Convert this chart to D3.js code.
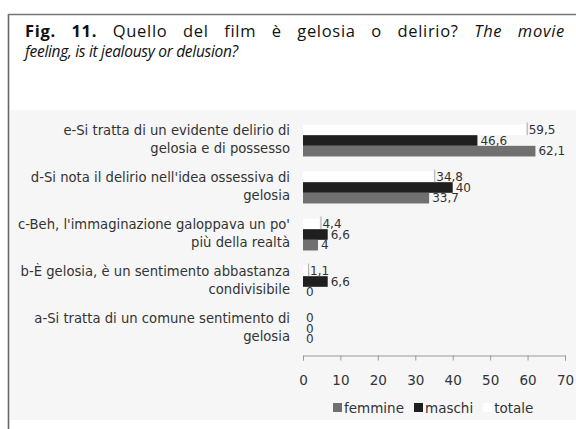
<!DOCTYPE html>
<html>
<head>
<meta charset="utf-8">
<script src="https://cdn.jsdelivr.net/npm/d3@7"></script>
<style>
  body { margin: 0; background: #fff; }
  svg { display: block; }
</style>
</head>
<body>
<script>
// data
var categories = ["e", "d", "c", "b", "a"];
var labelLines = [
    ["e-Si tratta di un evidente delirio di", "gelosia e di possesso"],
    ["d-Si nota il delirio nell'idea ossessiva di", "gelosia"],
    ["c-Beh, l'immaginazione galoppava un po'", "più della realtà"],
    ["b-È gelosia, è un sentimento abbastanza", "condivisibile"],
    ["a-Si tratta di un comune sentimento di", "gelosia"]
];
var femmine = [62.1, 33.7, 4, 0, 0];
var maschi = [46.6, 40, 6.6, 6.6, 0];
var totale = [59.5, 34.8, 4.4, 1.1, 0];
var seriesNames = ["totale", "maschi", "femmine"];
var legendNames = ["femmine", "maschi", "totale"];
var xTicks = [0, 10, 20, 30, 40, 50, 60, 70];

var colors = {femmine: "#707070", maschi: "#1f1f1f", totale: "#ffffff"};
var W = 576, H = 429;

var svg = d3.select("body").append("svg")
    .attr("width", W).attr("height", H);

// frame + panel
svg.append("rect").attr("x", 10).attr("y", 110).attr("width", W - 10).attr("height", 310)
    .attr("fill", "#f6f6f6");
svg.append("line").attr("x1", 8.5).attr("x2", 8.5).attr("y1", 14).attr("y2", H)
    .attr("stroke", "#666").attr("stroke-width", 1.6);
svg.append("line").attr("x1", 8).attr("x2", W).attr("y1", 14.5).attr("y2", 14.5)
    .attr("stroke", "#777").attr("stroke-width", 1.4);

// title (first line justified to the frame width)
var titleFont = "'Open Sans', sans-serif";
var t1 = svg.append("text").attr("x", 25).attr("y", 37)
    .style("font-family", titleFont).style("font-size", "16.5px")
    .style("letter-spacing", "0.7px").attr("fill", "#111");
t1.append("tspan").style("font-weight", "bold").text("Fig. 11.");
t1.append("tspan").text(" Quello del film è gelosia o delirio? ");
t1.append("tspan").style("font-style", "italic").text("The movie");
var natural = t1.node().getComputedTextLength();
t1.style("word-spacing", Math.max(0, (540 - natural) / 10) + "px");
svg.append("text").attr("x", 25).attr("y", 57)
    .style("font-family", titleFont).style("font-size", "15.5px")
    .style("letter-spacing", "-0.3px")
    .style("font-style", "italic").attr("fill", "#111")
    .text("feeling, is it jealousy or delusion?");

// scales
var x = d3.scaleLinear().domain([0, 70]).range([303, 565]);
var y = d3.scaleBand().domain(categories).range([117, 352])
    .paddingInner(0.32).paddingOuter(0.16);
var ySub = d3.scaleBand().domain(seriesNames).range([0, y.bandwidth()]);

var values = {femmine: femmine, maschi: maschi, totale: totale};
var rows = [];
categories.forEach(function(c, i) {
    seriesNames.forEach(function(s) {
        rows.push({cat: c, series: s, value: values[s][i]});
    });
});

var font = "'DejaVu Sans', Verdana, sans-serif";

// bars
svg.append("g").selectAll("rect")
    .data(rows).enter().append("rect")
    .attr("x", x(0))
    .attr("y", function(d) { return y(d.cat) + ySub(d.series); })
    .attr("width", function(d) { return x(d.value) - x(0); })
    .attr("height", ySub.bandwidth())
    .attr("fill", function(d) { return colors[d.series]; });

// small leader ticks next to the "totale" labels
svg.append("g").selectAll("line")
    .data(rows.filter(function(d) { return d.series === "totale" && d.value > 0; }))
    .enter().append("line")
    .attr("x1", function(d) { return x(d.value) + 1.5; })
    .attr("x2", function(d) { return x(d.value) + 1.5; })
    .attr("y1", function(d) { return y(d.cat) + ySub(d.series) - 2; })
    .attr("y2", function(d) { return y(d.cat) + ySub(d.series) + ySub.bandwidth(); })
    .attr("stroke", "#aaa").attr("stroke-width", 1);

// value labels
svg.append("g").selectAll("text")
    .data(rows).enter().append("text")
    .attr("x", function(d) { return x(d.value) + 3; })
    .attr("y", function(d) { return y(d.cat) + ySub(d.series) + ySub.bandwidth() / 2 + 4; })
    .style("font-family", font).style("font-size", "12px").attr("fill", "#333")
    .text(function(d) { return String(d.value).replace(".", ","); });

// category labels
var cl = svg.append("g").selectAll("text")
    .data(categories).enter().append("text")
    .attr("text-anchor", "end")
    .style("font-family", font).style("font-size", "13.2px").attr("fill", "#333");
cl.each(function(c, i) {
    var cy = y(c) + y.bandwidth() / 2;
    d3.select(this).selectAll("tspan").data(labelLines[i]).enter().append("tspan")
        .attr("x", 290)
        .attr("y", function(d, j) { return cy - 5.5 + j * 18; })
        .text(function(d) { return d; });
});

// x axis
var axis = svg.append("g").attr("transform", "translate(0,355.5)")
    .call(d3.axisBottom(x).tickValues(xTicks).tickSize(5).tickPadding(15).tickSizeOuter(5));
axis.selectAll("path, line").attr("stroke", "#999");
axis.selectAll("text").style("font-family", font).style("font-size", "13.5px").attr("fill", "#333");

// legend
var legend = svg.append("g").attr("transform", "translate(333,408)");
var lx = 0;
legendNames.forEach(function(n) {
    legend.append("rect").attr("x", lx).attr("y", -5).attr("width", 9).attr("height", 9)
        .attr("fill", colors[n]);
    var tx = legend.append("text").attr("x", lx + 11).attr("y", 4.5)
        .style("font-family", font).style("font-size", "13.5px").attr("fill", "#333").text(n);
    lx += 11 + tx.node().getComputedTextLength() + 10;
});
</script>
</body>
</html>
